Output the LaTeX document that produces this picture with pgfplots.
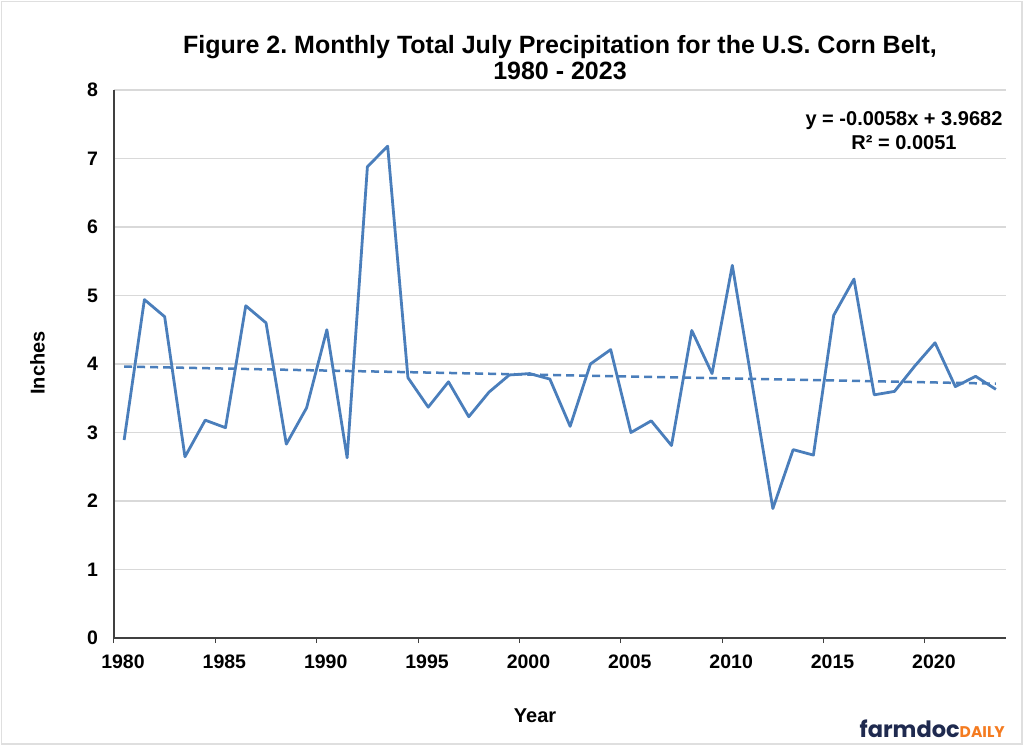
\documentclass[border=0pt]{standalone}
\usepackage{fontspec}
\setmainfont{Liberation Sans}
\newfontfamily\poppins{Poppins}
\usepackage{pgfplots}
\pgfplotsset{compat=1.18}
\definecolor{lineblue}{HTML}{4A7EBB}
\definecolor{gridgray}{HTML}{D9D9D9}
\definecolor{navy}{HTML}{1F2A4F}
\definecolor{fdorange}{HTML}{F47B20}
\frenchspacing
\begin{document}
\begin{tikzpicture}[x=1pt,y=1pt]
\path[use as bounding box] (-114,-107) rectangle (909,638);
\draw[gray!25, line width=1.5pt] (-112.5,-106) rectangle (908,636.5);
\begin{axis}[
  scale only axis, width=892pt, height=548pt,
  at={(0,0)}, anchor=south west,
  xmin=1980, xmax=2024, ymin=0, ymax=8,
  xtick={1980,1985,...,2020}, ytick={0,1,...,8},
  axis lines*=left,
  axis line style={black!75, line width=1.2pt},
  ymajorgrids, grid style={gridgray, line width=1.1pt},
  tick align=outside, major tick length=5pt,
  xtick style={black!75, line width=1pt},
  ytick style={draw=none},
  ticklabel style={font=\bfseries\fontsize{19.5}{19.5}\selectfont},
  xticklabel style={yshift=-8pt, xshift=9pt},
  yticklabel style={xshift=-7.5pt},
  /pgf/number format/.cd, 1000 sep={}, assume math mode=true,
  /pgfplots/.cd,
  xlabel={Year}, ylabel={Inches},
  xlabel style={font=\bfseries\fontsize{20}{20}\selectfont, at={(axis description cs:0.472,-0.142)}, anchor=center},
  ylabel style={font=\bfseries\fontsize{20}{20}\selectfont, at={(axis description cs:-0.0858,0.502)}, anchor=center},
  clip=false,
]
\addplot[lineblue, line width=2.8pt, line join=round] coordinates {
(1980.5,2.89) (1981.5,4.94) (1982.5,4.69) (1983.5,2.645) (1984.5,3.18)
(1985.5,3.07) (1986.5,4.85) (1987.5,4.60) (1988.5,2.83) (1989.5,3.36)
(1990.5,4.50) (1991.5,2.63) (1992.5,6.88) (1993.5,7.18) (1994.5,3.80)
(1995.5,3.37) (1996.5,3.74) (1997.5,3.23) (1998.5,3.59) (1999.5,3.84)
(2000.5,3.86) (2001.5,3.78) (2002.5,3.09) (2003.5,4.00) (2004.5,4.21)
(2005.5,3.00) (2006.5,3.17) (2007.5,2.81) (2008.5,4.49) (2009.5,3.86)
(2010.5,5.44) (2011.5,3.67) (2012.5,1.89) (2013.5,2.75) (2014.5,2.67)
(2015.5,4.71) (2016.5,5.24) (2017.5,3.55) (2018.5,3.60) (2019.5,3.97)
(2020.5,4.31) (2021.5,3.67) (2022.5,3.82) (2023.5,3.63)
};
\addplot[lineblue, line width=2.5pt, dash pattern=on 8pt off 5pt] coordinates {(1980.5,3.962) (2023.5,3.713)};
\end{axis}
\node[align=center, font=\bfseries\fontsize{25}{26}\selectfont] at (446,580.5) {Figure 2. Monthly Total July Precipitation for the U.S. Corn Belt,\\1980 - 2023};
\node[align=center, font=\bfseries\fontsize{20}{24}\selectfont] at (790,507) {y = -0.0058x + 3.9682\\R² = 0.0051};
\node[anchor=base east, inner sep=0pt] at (891,-99) {\poppins\bfseries\fontsize{22.5}{22.5}\selectfont\textcolor{navy}{farmdoc}\textcolor{fdorange}{\fontsize{15.5}{15.5}\selectfont DAILY}};
\end{tikzpicture}
\end{document}
